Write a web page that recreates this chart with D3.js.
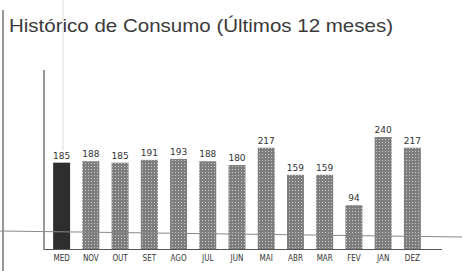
<!DOCTYPE html>
<html>
<head>
<meta charset="utf-8">
<script src="https://cdn.jsdelivr.net/npm/d3@7"></script>
<style>
  body { margin: 0; background: #fff; }
  svg { display: block; }
</style>
</head>
<body>
<div id="chart"></div>
<script>
const months = ["MED", "NOV", "OUT", "SET", "AGO", "JUL", "JUN", "MAI", "ABR", "MAR", "FEV", "JAN", "DEZ"];
const consumo = [185, 188, 185, 191, 193, 188, 180, 217, 159, 159, 94, 240, 217];
const title = "Histórico de Consumo (Últimos 12 meses)";

const W = 462, H = 271;
const base = 249;

const svg = d3.select("#chart")
    .append("svg")
    .attr("width", W)
    .attr("height", H);

// halftone-ish pattern for the bars
const defs = svg.append("defs");
const pat = defs.append("pattern")
    .attr("id", "dots")
    .attr("width", 3)
    .attr("height", 3)
    .attr("patternUnits", "userSpaceOnUse");
pat.append("rect").attr("width", 3).attr("height", 3).attr("fill", "#7e7e7e");
pat.append("rect").attr("x", 1).attr("y", 1).attr("width", 1).attr("height", 1).attr("fill", "#c8c8c8");

// left border of the box
svg.append("line")
    .attr("x1", 3).attr("x2", 3)
    .attr("y1", 10).attr("y2", H)
    .attr("stroke", "#555")
    .attr("stroke-width", 1.2);

svg.append("text")
    .attr("x", 9)
    .attr("y", 32)
    .attr("font-family", "Liberation Sans, Arial, sans-serif")
    .attr("font-size", 19)
    .attr("textLength", 384)
    .attr("lengthAdjust", "spacingAndGlyphs")
    .attr("fill", "#3a3a3a")
    .text(title);

const x = d3.scaleBand()
    .domain(months)
    .range([47, 427])
    .paddingInner(0.42)
    .paddingOuter(0.21);

const y = d3.scaleLinear()
    .domain([0, 240])
    .range([base, 137]);

// vertical axis line
svg.append("line")
    .attr("x1", 44).attr("x2", 44)
    .attr("y1", 70).attr("y2", base + 1)
    .attr("stroke", "#555")
    .attr("stroke-width", 1.2);

// faint fold line
svg.append("line")
    .attr("x1", 63).attr("x2", 63)
    .attr("y1", 0).attr("y2", 150)
    .attr("stroke", "#ddd")
    .attr("stroke-width", 1);

svg.selectAll(".bar")
    .data(consumo)
    .enter()
    .append("rect")
    .attr("class", "bar")
    .attr("x", (d, i) => x(months[i]))
    .attr("y", d => y(d))
    .attr("width", x.bandwidth())
    .attr("height", d => base - y(d))
    .attr("fill", (d, i) => i === 0 ? "#2e2e2e" : "url(#dots)");

svg.selectAll(".val")
    .data(consumo)
    .enter()
    .append("text")
    .attr("class", "val")
    .attr("x", (d, i) => x(months[i]) + x.bandwidth() / 2)
    .attr("y", d => y(d) - 4)
    .attr("text-anchor", "middle")
    .attr("font-family", "DejaVu Sans, sans-serif")
    .attr("font-size", 9)
    .attr("fill", "#333")
    .text(d => d);

// faint scan line across the lower part
svg.append("line")
    .attr("x1", 0).attr("x2", W)
    .attr("y1", 231).attr("y2", 237)
    .attr("stroke", "#888")
    .attr("stroke-width", 1);

// x axis
const xAxis = svg.append("g")
    .attr("transform", `translate(0,${base})`)
    .call(d3.axisBottom(x).tickSize(0).tickPadding(6));
xAxis.select(".domain")
    .attr("d", `M44,0.5H${W - 20}`)
    .attr("stroke", "#555")
    .attr("stroke-width", 1.2);
xAxis.selectAll("text")
    .attr("font-family", "DejaVu Sans Condensed, DejaVu Sans, sans-serif")
    .attr("font-size", 8)
    .attr("fill", "#333");
</script>
</body>
</html>
